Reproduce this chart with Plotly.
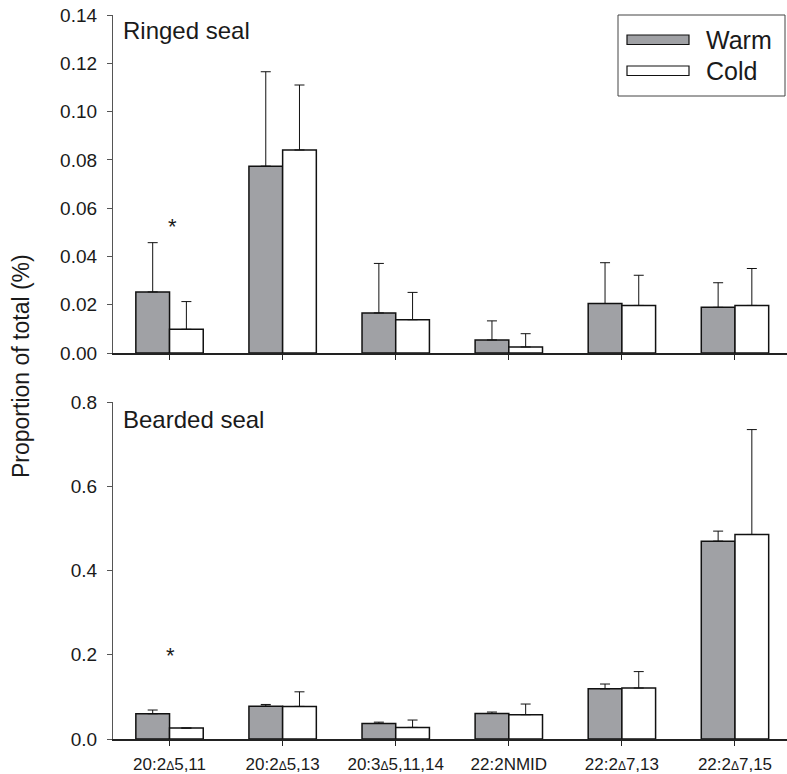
import plotly.graph_objects as go

# ---------------- data ----------------
categories = ["20:2Δ5,11", "20:2Δ5,13", "20:3Δ5,11,14", "22:2NMID", "22:2Δ7,13", "22:2Δ7,15"]
tick_text = [c.replace("Δ", "<span style='font-size:12px'>Δ</span>") for c in categories]

ringed_warm = [0.0253, 0.0774, 0.0166, 0.0054, 0.0205, 0.0189]
ringed_warm_sd = [0.0204, 0.0391, 0.0205, 0.0079, 0.0169, 0.0102]
ringed_cold = [0.0098, 0.0841, 0.0138, 0.0025, 0.0197, 0.0197]
ringed_cold_sd = [0.0115, 0.0269, 0.0113, 0.0055, 0.0125, 0.0153]

bearded_warm = [0.060, 0.078, 0.037, 0.0607, 0.119, 0.4697]
bearded_warm_sd = [0.0088, 0.004, 0.003, 0.0033, 0.0115, 0.0238]
bearded_cold = [0.026, 0.0774, 0.0275, 0.0577, 0.121, 0.4855]
bearded_cold_sd = [0.0, 0.0346, 0.0175, 0.0253, 0.039, 0.249]

ringed_ticks = [0.00, 0.02, 0.04, 0.06, 0.08, 0.10, 0.12, 0.14]
bearded_ticks = [0.0, 0.2, 0.4, 0.6, 0.8]

# ---------------- style ----------------
W, H = 787, 774
ML, MR, MT, MB = 113, 0, 15, 35
PW, PH = W - ML - MR, H - MT - MB
WARM_FILL = "#a0a1a5"
COLD_FILL = "#ffffff"
TXT = "#1a1a1a"
FONT = "Liberation Sans, Arial, sans-serif"


def px(x, y):
    return (x - ML) / PW, (H - MB - y) / PH


fig = go.Figure()


def add_pair(warm, wsd, cold, csd, xa, ya):
    for name, vals, sd, fill in [("Warm", warm, wsd, WARM_FILL), ("Cold", cold, csd, COLD_FILL)]:
        fig.add_trace(go.Bar(
            x=categories, y=vals, name=name, xaxis=xa, yaxis=ya,
            marker=dict(color=fill, line=dict(color="#111111", width=1.5)),
            error_y=dict(type="data", array=sd, arrayminus=[0] * len(sd), symmetric=False,
                         color="#111111", thickness=1, width=5),
            showlegend=False, offsetgroup=name,
        ))


add_pair(ringed_warm, ringed_warm_sd, ringed_cold, ringed_cold_sd, "x", "y")
add_pair(bearded_warm, bearded_warm_sd, bearded_cold, bearded_cold_sd, "x2", "y2")

top_lo = px(0, 353)[1]
bot_hi = px(0, 402)[1]

xcommon = dict(type="category", categoryorder="array", categoryarray=categories,
               range=[-0.5, 5.46], showline=True, linecolor="#222222", linewidth=1.5,
               ticks="outside", ticklen=5, tickcolor="#222222", tickwidth=1,
               showgrid=False, zeroline=False, fixedrange=True)
ycommon = dict(showline=True, linecolor="#555555", linewidth=1.2,
               ticks="outside", ticklen=5, tickcolor="#555555", tickwidth=1,
               showgrid=False, zeroline=False, ticklabelstandoff=6,
               tickfont=dict(family=FONT, size=19, color=TXT))

fig.update_layout(
    width=W, height=H,
    margin=dict(l=ML, r=MR, t=MT, b=MB),
    paper_bgcolor="white", plot_bgcolor="white",
    barmode="group", bargap=0.404, bargroupgap=0,
    font=dict(family=FONT, color=TXT),
    xaxis=dict(xcommon, domain=[0, 1], anchor="y", showticklabels=False),
    yaxis=dict(ycommon, domain=[top_lo, 1], anchor="x", range=[0, 0.14],
               tickvals=ringed_ticks, ticktext=[f"{v:.2f}" for v in ringed_ticks]),
    xaxis2=dict(xcommon, domain=[0, 1], anchor="y2", tickvals=categories, ticktext=tick_text,
                ticklabelstandoff=4,
                tickfont=dict(family=FONT, size=17, color=TXT)),
    yaxis2=dict(ycommon, domain=[0, bot_hi], anchor="x2", range=[0, 0.8],
                tickvals=bearded_ticks, ticktext=[f"{v:.1f}" for v in bearded_ticks]),
)

# panel labels
fig.add_annotation(text="Ringed seal", xref="x domain", yref="y domain", x=8 / PW, y=1 - 15 / 338,
                   xanchor="left", yanchor="middle", showarrow=False,
                   font=dict(family=FONT, size=24, color=TXT))
fig.add_annotation(text="Bearded seal", xref="x2 domain", yref="y2 domain", x=8 / PW, y=1 - 17 / 337,
                   xanchor="left", yanchor="middle", showarrow=False,
                   font=dict(family=FONT, size=24, color=TXT))

# significance asterisks
fig.add_annotation(text="*", xref="x", yref="y", x=categories[0], y=0.0525, xshift=3,
                   showarrow=False, font=dict(family=FONT, size=22, color=TXT))
fig.add_annotation(text="*", xref="x2", yref="y2", x=categories[0], y=0.199, xshift=1,
                   showarrow=False, font=dict(family=FONT, size=22, color=TXT))

# y-axis title
fig.add_annotation(text="Proportion of total (%)", xref="paper", yref="paper",
                   x=px(21, 0)[0], y=px(0, 366)[1], textangle=-90,
                   xanchor="center", yanchor="middle", showarrow=False,
                   font=dict(family=FONT, size=23, color=TXT))

# legend drawn manually (wide swatches)
x0, y0 = px(618, 15)
x1, y1 = px(785, 96)
fig.add_shape(type="rect", xref="paper", yref="paper", x0=x0, y0=y1, x1=x1, y1=y0,
              line=dict(color="#444444", width=1), fillcolor="white", layer="above")
for name, fill, yt, yb, yc in [("Warm", WARM_FILL, 35, 44.5, 40), ("Cold", COLD_FILL, 66, 75.5, 71)]:
    sx0, sy0 = px(627, yt)
    sx1, sy1 = px(689, yb)
    fig.add_shape(type="rect", xref="paper", yref="paper", x0=sx0, y0=sy1, x1=sx1, y1=sy0,
                  line=dict(color="#111111", width=1.2), fillcolor=fill, layer="above")
    tx, ty = px(704, yc)
    fig.add_annotation(text=name, xref="paper", yref="paper", x=tx, y=ty,
                       xanchor="left", yanchor="middle", showarrow=False,
                       font=dict(family=FONT, size=25, color=TXT))

fig.write_html("out.html")
